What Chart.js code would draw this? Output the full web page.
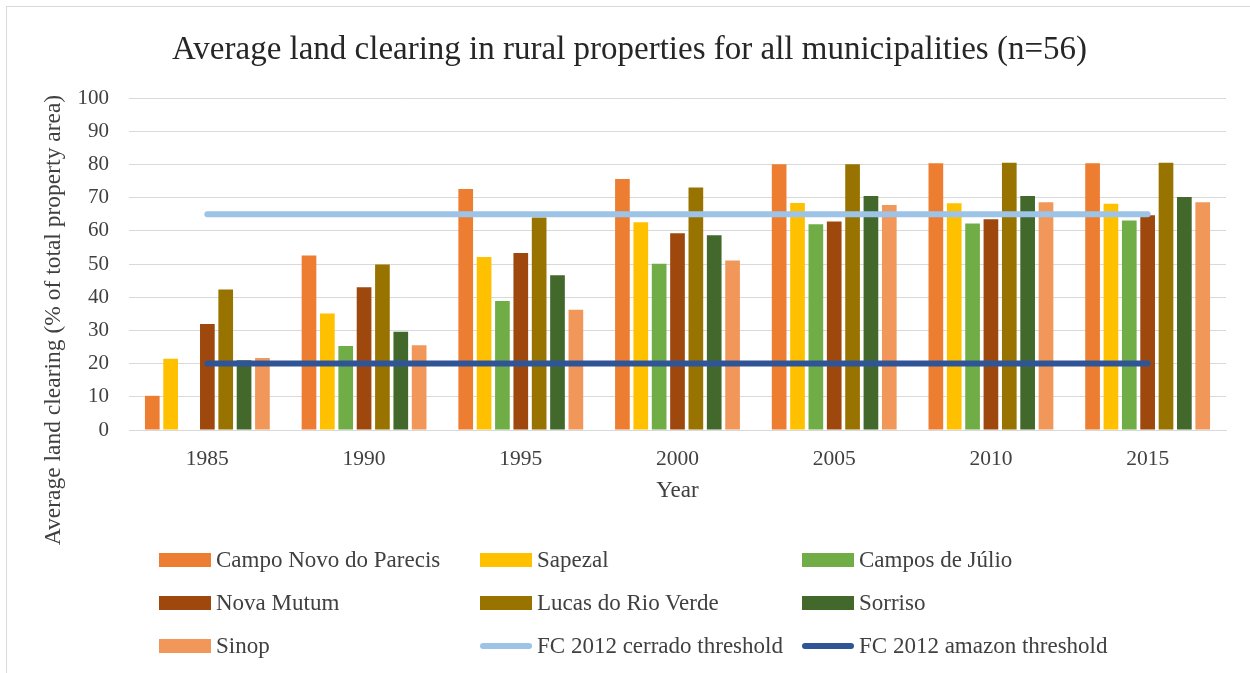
<!DOCTYPE html>
<html>
<head>
<meta charset="utf-8">
<script src="https://cdn.jsdelivr.net/npm/chart.js@4.4.1/dist/chart.umd.min.js"></script>
<style>
  html, body { margin: 0; padding: 0; background: #fff; }
  #frame { position: absolute; left: 6px; top: 6px; width: 1260px; height: 680px; border: 1px solid #d9d9d9; box-sizing: border-box; }
  #wrap { position: absolute; left: 0; top: 0; width: 1250px; height: 673px; }
  #legend { position: absolute; left: 0; top: 0; width: 1250px; height: 673px; pointer-events: none;
            font-family: "Liberation Serif", "DejaVu Serif", serif; font-size: 23px; color: #404040; }
  .item { position: absolute; display: flex; align-items: center; height: 26px; white-space: nowrap; }
  .swatch { width: 52px; height: 14px; margin-right: 5px; }
  .swatch.line { height: 6px; border-radius: 3px; }
</style>
</head>
<body>
<div id="frame"></div>
<div id="wrap"><canvas id="myChart" width="1250" height="673"></canvas></div>
<div id="legend"></div>
<script>
const years = ["1985", "1990", "1995", "2000", "2005", "2010", "2015"];
const yTicks = [0, 10, 20, 30, 40, 50, 60, 70, 80, 90, 100];

const campoNovo = [10.3, 52.6, 72.6, 75.6, 80.1, 80.4, 80.4];
const sapezal = [21.5, 35.1, 52.1, 62.6, 68.4, 68.3, 68.2];
const camposJulio = [null, 25.3, 38.9, 50.1, 62.0, 62.2, 63.1];
const novaMutum = [31.9, 43.0, 53.3, 59.3, 62.8, 63.5, 64.7];
const lucasRioVerde = [42.3, 49.9, 64.0, 73.1, 80.1, 80.5, 80.5];
const sorriso = [21.0, 29.6, 46.6, 58.7, 70.5, 70.5, 70.2];
const sinop = [21.7, 25.5, 36.2, 51.1, 67.8, 68.6, 68.6];
const cerradoThreshold = [65, 65, 65, 65, 65, 65, 65];
const amazonThreshold = [20, 20, 20, 20, 20, 20, 20];

const serif = '"Liberation Serif", "DejaVu Serif", serif';
const textColor = "#404040";

const bar = (label, data, color) => ({
  type: "bar",
  label: label,
  data: data,
  backgroundColor: color,
  borderWidth: 0,
  categoryPercentage: 0.82,
  barPercentage: 0.8,
  order: 1,
});

const line = (label, data, color) => ({
  type: "line",
  label: label,
  data: data,
  borderColor: color,
  backgroundColor: color,
  borderWidth: 6,
  borderCapStyle: "round",
  pointRadius: 0,
  fill: false,
  order: 0,
});

// rotated y title, centred on the whole plot block rather than the axis
const yTitle = {
  id: "yTitle",
  afterDraw(chart) {
    const ctx = chart.ctx;
    ctx.save();
    ctx.translate(54, 320);
    ctx.rotate(-Math.PI / 2);
    ctx.font = "23.5px " + serif;
    ctx.fillStyle = textColor;
    ctx.textAlign = "center";
    ctx.textBaseline = "middle";
    ctx.fillText("Average land clearing (% of total property area)", 0, 0);
    ctx.restore();
  },
};

const chart = new Chart(document.getElementById("myChart"), {
  data: {
    labels: years,
    datasets: [
      bar("Campo Novo do Parecis", campoNovo, "#ED7D31"),
      bar("Sapezal", sapezal, "#FFC000"),
      bar("Campos de Júlio", camposJulio, "#70AD47"),
      bar("Nova Mutum", novaMutum, "#9E480E"),
      bar("Lucas do Rio Verde", lucasRioVerde, "#997300"),
      bar("Sorriso", sorriso, "#43682B"),
      bar("Sinop", sinop, "#F1975A"),
      line("FC 2012 cerrado threshold", cerradoThreshold, "#9DC3E6"),
      line("FC 2012 amazon threshold", amazonThreshold, "#2F5597"),
    ],
  },
  options: {
    responsive: false,
    animation: false,
    // bottom padding leaves room for the html legend
    layout: { padding: { left: 33, right: 24, top: 0, bottom: 153 } },
    plugins: {
      legend: { display: false },
      tooltip: { enabled: false },
      title: {
        display: true,
        text: "Average land clearing in rural properties for all municipalities (n=56)",
        font: { family: serif, size: 33, weight: "normal" },
        color: "#262626",
        padding: { top: 31, bottom: 27.5 },
      },
    },
    scales: {
      x: {
        offset: true,
        grid: { display: false, drawTicks: false },
        border: { display: true, color: "#d9d9d9", width: 1 },
        ticks: { font: { family: serif, size: 21.5 }, color: textColor, padding: 16 },
        title: {
          display: true,
          text: "Year",
          font: { family: serif, size: 23 },
          color: textColor,
          padding: { top: 0, bottom: 15 },
        },
        afterFit(scale) { scale.height = 90; },
      },
      y: {
        min: 0,
        max: 100,
        afterBuildTicks(scale) { scale.ticks = yTicks.map(v => ({ value: v })); },
        grid: { color: "#d9d9d9", lineWidth: 1, drawTicks: false },
        border: { display: false },
        ticks: { font: { family: serif, size: 21 }, color: textColor, padding: 20 },
        afterFit(scale) { scale.width = 96; },
      },
    },
  },
  plugins: [yTitle],
});

// legend laid out as a three-column grid under the plot
const legendEl = document.getElementById("legend");
const colX = [159, 480, 802];
const rowY = [560, 603, 646];
chart.data.datasets.forEach((ds, i) => {
  const item = document.createElement("div");
  item.className = "item";
  item.style.left = colX[i % 3] + "px";
  item.style.top = (rowY[Math.floor(i / 3)] - 13) + "px";
  const sw = document.createElement("span");
  sw.className = ds.type === "line" ? "swatch line" : "swatch";
  sw.style.background = ds.type === "line" ? ds.borderColor : ds.backgroundColor;
  const txt = document.createElement("span");
  txt.textContent = ds.label;
  item.appendChild(sw);
  item.appendChild(txt);
  legendEl.appendChild(item);
});
</script>
</body>
</html>
